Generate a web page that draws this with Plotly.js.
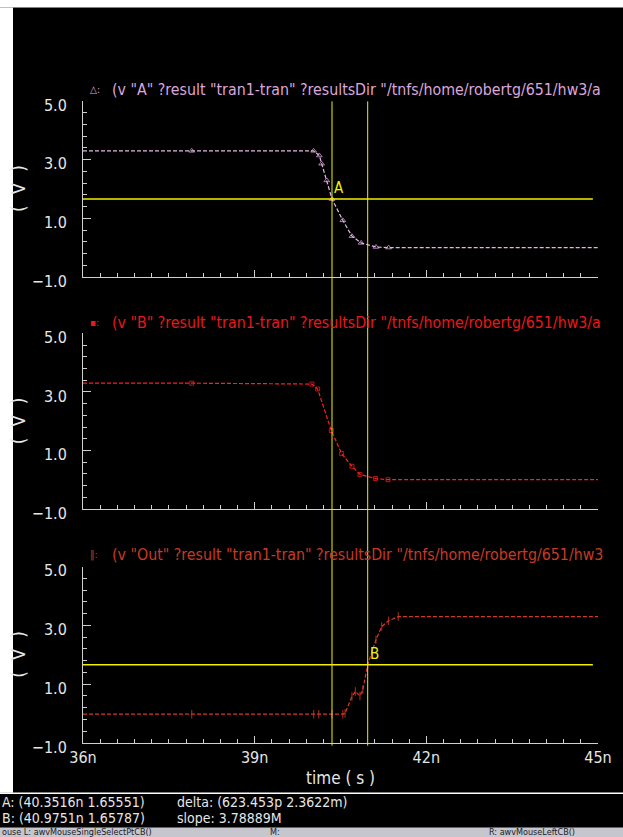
<!DOCTYPE html>
<html>
<head>
<meta charset="utf-8">
<script src="https://cdn.plot.ly/plotly-3.0.1.min.js"></script>
<style>
html,body{margin:0;padding:0;background:#ffffff;overflow:hidden;}
#chart{position:absolute;left:0;top:0;width:623px;height:837px;}
</style>
</head>
<body>
<div id="chart"></div>
<script>
// ---------------- data ----------------
const timeA = [36.0, 37.9, 40.03, 40.13, 40.17, 40.26, 40.3516, 40.54, 40.70, 40.86, 41.12, 41.34, 45.0];
const voltA = [3.3, 3.3, 3.3, 3.14, 2.86, 2.29, 1.6555, 0.93, 0.39, 0.16, 0.02, 0.0, 0.0];

const timeB = [36.0, 37.9, 40.0, 40.10, 40.34, 40.52, 40.70, 40.84, 41.11, 41.33, 45.0];
const voltB = [3.3, 3.3, 3.27, 3.10, 1.68, 0.89, 0.46, 0.18, 0.04, 0.0, 0.0];

const timeOut = [36.0, 37.9, 40.03, 40.12, 40.35, 40.54, 40.58, 40.70, 40.76, 40.84, 40.89, 40.9751, 41.05, 41.12, 41.22, 41.34, 41.51, 45.0];
const voltOut = [-0.02, -0.02, -0.02, -0.02, -0.02, -0.02, 0.01, 0.58, 0.75, 0.60, 0.81, 1.6579, 2.11, 2.51, 2.96, 3.16, 3.30, 3.30];

const cursorNames = ["A", "B"];
const cursorTime = [40.3516, 40.9751];
const cursorVolt = [1.65551, 1.65787];

const xTickVals = [36, 39, 42, 45];
const xTickText = ["36n", "39n", "42n", "45n"];
const yTickVals = [-1, 1, 3, 5];
const yTickText = ["\u22121.0", "1.0", "3.0", "5.0"];

const panelTitles = [
  '(v "A" ?result "tran1-tran" ?resultsDir "/tnfs/home/robertg/651/hw3/a',
  '(v "B" ?result "tran1-tran" ?resultsDir "/tnfs/home/robertg/651/hw3/a',
  '(v "Out" ?result "tran1-tran" ?resultsDir "/tnfs/home/robertg/651/hw3'
];
const statusLines = [
  "A: (40.3516n 1.65551)",
  "B: (40.9751n 1.65787)",
  "delta: (623.453p 2.3622m)",
  "slope: 3.78889M"
];
const mouseBar = ["ouse L: awvMouseSingleSelectPtCB()", "M:", "R: awvMouseLeftCB()"];

// ---------------- geometry helpers (page px -> paper) ----------------
const L = 83, R = 598, T = 100.6, B = 743.3;
const px = x => (x - L) / (R - L);
const py = y => (B - y) / (B - T);

const FONT = '"DejaVu Sans Condensed", "Liberation Sans Narrow", "DejaVu Sans", sans-serif';
const colA = "#e8b4e8", colB = "#ff2020", colOut = "#d23a26";
const axisCol = "#cfcfcf", txtCol = "#e6e6e6", yellow = "#f0f000";

function sizes(n, s){ return Array.from({length:n}, (_, i) => (i === 0 || i === n - 1) ? 0 : s); }

const traces = [
  {x: timeA, y: voltA, xaxis: "x3", yaxis: "y", mode: "lines+markers", type: "scatter",
   line: {color: colA, width: 1.2, dash: "4px,2px"},
   marker: {symbol: "triangle-up-open", size: sizes(timeA.length, 5), color: colA, line: {width: 1, color: colA}}},
  {x: timeB, y: voltB, xaxis: "x2", yaxis: "y2", mode: "lines+markers", type: "scatter",
   line: {color: colB, width: 1.2, dash: "4px,2px"},
   marker: {symbol: "square-open", size: sizes(timeB.length, 4), color: colB, line: {width: 1, color: colB}}},
  {x: timeOut, y: voltOut, xaxis: "x", yaxis: "y3", mode: "lines+markers", type: "scatter",
   line: {color: colOut, width: 1.2, dash: "4px,2px"},
   marker: {symbol: "line-ns-open", size: sizes(timeOut.length, 6), color: colOut, line: {width: 1.2, color: colOut}}}
];

function xAxis(anchor, showLabels){
  return {
    range: [36, 45], anchor: anchor, showgrid: false, zeroline: false,
    showline: true, linecolor: axisCol, linewidth: 1, mirror: false,
    ticks: "inside", ticklen: 7, tickcolor: axisCol, tickwidth: 1,
    tickvals: xTickVals, ticktext: xTickText, showticklabels: showLabels,
    tickfont: {family: FONT, size: 16, color: txtCol},
    minor: {dtick: 0.3, tick0: 36, ticks: "inside", ticklen: 4, tickcolor: axisCol, showgrid: false},
    fixedrange: true
  };
}
function yAxis(domain, anchor){
  return {
    domain: domain, range: [-1, 5], anchor: anchor, showgrid: false, zeroline: false,
    showline: true, linecolor: axisCol, linewidth: 1,
    ticks: "inside", ticklen: 8, tickcolor: axisCol, tickwidth: 1,
    tickvals: yTickVals, ticktext: yTickText,
    tickfont: {family: FONT, size: 16, color: txtCol},
    ticklabelstandoff: 12, ticklabelshift: 4,
    minor: {dtick: 0.4, tick0: -1, ticks: "inside", ticklen: 4, tickcolor: axisCol, showgrid: false},
    fixedrange: true
  };
}

const shapes = [
  // page frame pieces
  {type: "rect", xref: "paper", yref: "paper", x0: px(-5), x1: px(630), y0: py(7), y1: py(-5), fillcolor: "#ffffff", line: {width: 0}},
  {type: "rect", xref: "paper", yref: "paper", x0: px(-5), x1: px(13), y0: py(793), y1: py(7), fillcolor: "#ffffff", line: {width: 0}},
  {type: "line", xref: "paper", yref: "paper", x0: px(0), x1: px(623), y0: py(793.5), y1: py(793.5), line: {color: "#ffffff", width: 1.5}},
  {type: "rect", xref: "paper", yref: "paper", x0: px(-5), x1: px(630), y0: py(845), y1: py(828), fillcolor: "#c6c6ce", line: {width: 0}},
  // vertical cursor lines
  {type: "line", xref: "x", yref: "paper", x0: cursorTime[0], x1: cursorTime[0], y0: py(746), y1: py(101), line: {color: yellow, width: 1}},
  {type: "line", xref: "x", yref: "paper", x0: cursorTime[1], x1: cursorTime[1], y0: py(746), y1: py(101), line: {color: yellow, width: 1}},
  // horizontal cursor lines
  {type: "line", xref: "x3 domain", yref: "y", x0: 0, x1: 0.99, y0: cursorVolt[0], y1: cursorVolt[0], line: {color: yellow, width: 1.5}},
  {type: "line", xref: "x domain", yref: "y3", x0: 0, x1: 0.99, y0: cursorVolt[1], y1: cursorVolt[1], line: {color: yellow, width: 1.5}}
];

const ann = [];
function txt(text, x, y, opts){
  ann.push(Object.assign({text: text, xref: "paper", yref: "paper", x: px(x), y: py(y),
    xanchor: "left", yanchor: "middle", showarrow: false,
    font: {family: FONT, size: 15, color: txtCol}}, opts || {}));
}
// panel titles
const titleY = [89.5, 322, 555];
const titleCol = ["#dca6dc", "#e8181c", "#c83a24"];
const prefixGlyph = ["\u25B3", "\u25AA", "\u2016"];
for (let i = 0; i < 3; i++){
  txt(prefixGlyph[i] + ":", 88, titleY[i], {font: {family: FONT, size: 10, color: titleCol[i]}});
  txt(panelTitles[i], 110, titleY[i], {font: {family: FONT, size: 15.8, color: titleCol[i]}});
  txt("(  V  )", 18, [188.6, 421.2, 655][i], {xanchor: "center", textangle: -90, font: {family: FONT, size: 19, color: txtCol}});
}
// x title
txt("time ( s )", 340.5, 778, {xanchor: "center", font: {family: FONT, size: 17, color: txtCol}});
// cursor letters
ann.push({text: cursorNames[0], xref: "x3", yref: "y", x: cursorTime[0], y: cursorVolt[0], xanchor: "left", yanchor: "bottom",
  showarrow: false, font: {family: FONT, size: 15, color: yellow}});
ann.push({text: cursorNames[1], xref: "x", yref: "y3", x: cursorTime[1], y: cursorVolt[1], xanchor: "left", yanchor: "bottom",
  showarrow: false, font: {family: FONT, size: 15, color: yellow}});
// status lines
txt(statusLines[0], 0, 802, {font: {family: FONT, size: 14, color: txtCol}});
txt(statusLines[1], 0, 818.5, {font: {family: FONT, size: 14, color: txtCol}});
txt(statusLines[2], 175, 802, {font: {family: FONT, size: 14, color: txtCol}});
txt(statusLines[3], 175, 818.5, {font: {family: FONT, size: 14, color: txtCol}});
// mouse bar
txt(mouseBar[0], 0, 832.5, {font: {family: FONT, size: 9, color: "#202028"}});
txt(mouseBar[1], 268, 832.5, {font: {family: FONT, size: 9, color: "#202028"}});
txt(mouseBar[2], 487, 832.5, {font: {family: FONT, size: 9, color: "#202028"}});

const layout = {
  width: 623, height: 837,
  margin: {l: L, r: 623 - R, t: T, b: 837 - B, pad: 0},
  paper_bgcolor: "#000000", plot_bgcolor: "#000000",
  showlegend: false,
  xaxis: xAxis("y3", true),
  xaxis2: Object.assign(xAxis("y2", false), {matches: "x"}),
  xaxis3: Object.assign(xAxis("y", false), {matches: "x"}),
  yaxis: yAxis([py(276.7), 1], "x3"),
  yaxis2: yAxis([py(509), py(333.3)], "x2"),
  yaxis3: yAxis([0, py(566.7)], "x"),
  shapes: shapes,
  annotations: ann
};

Plotly.newPlot("chart", traces, layout, {staticPlot: true, displayModeBar: false});
</script>
</body>
</html>
